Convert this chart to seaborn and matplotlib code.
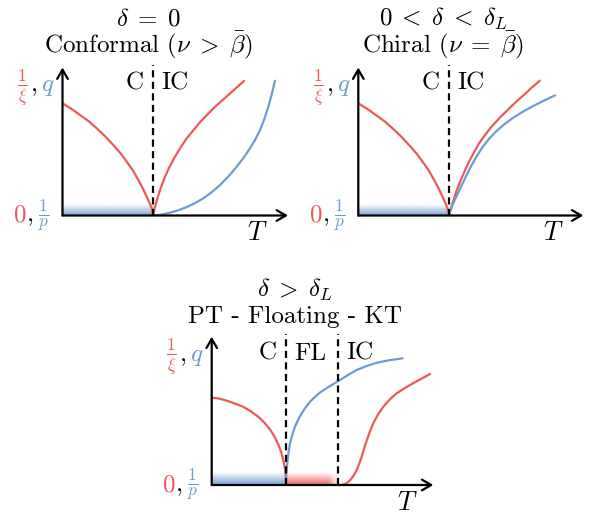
import numpy as np
import matplotlib
matplotlib.use("Agg")
import matplotlib.pyplot as plt
import matplotlib.colors as mcolors
import seaborn as sns

# ---------------- data ----------------
# Panel 1: delta = 0 (Conformal)
p1_red_left_T = [0.0, 0.1, 0.193, 0.29, 0.377, 0.47, 0.559, 0.64, 0.707, 0.775,
                 0.835, 0.885, 0.927, 0.955, 0.975, 0.99, 1.0]
p1_red_left_y = [0.758, 0.720, 0.679, 0.636, 0.589, 0.535, 0.476, 0.420, 0.364, 0.305,
                 0.240, 0.182, 0.127, 0.09, 0.06, 0.03, 0.0]
p1_red_right_T = [1.0, 1.008, 1.022, 1.04, 1.062, 1.09, 1.129, 1.18, 1.239, 1.30,
                  1.368, 1.44, 1.514, 1.60, 1.698, 1.80, 1.90, 1.999]
p1_red_right_y = [0.0, 0.03, 0.065, 0.105, 0.15, 0.20, 0.262, 0.33, 0.397, 0.46,
                  0.521, 0.575, 0.630, 0.685, 0.745, 0.800, 0.855, 0.909]
p1_blue_T = [1.0, 1.09, 1.184, 1.28, 1.368, 1.46, 1.551, 1.645, 1.735, 1.83,
             1.919, 2.0, 2.065, 2.125, 2.176, 2.225, 2.267, 2.305, 2.34]
p1_blue_y = [0.0, 0.006, 0.019, 0.036, 0.057, 0.084, 0.116, 0.158, 0.206, 0.266,
             0.330, 0.395, 0.454, 0.515, 0.578, 0.655, 0.735, 0.82, 0.911]

# Panel 2: 0 < delta < delta_L (Chiral)
p2_red_left_T = [0.0, 0.1, 0.193, 0.29, 0.377, 0.47, 0.559, 0.64, 0.707, 0.775,
                 0.835, 0.885, 0.927, 0.955, 0.975, 0.99, 1.0]
p2_red_left_y = [0.758, 0.720, 0.679, 0.636, 0.589, 0.535, 0.476, 0.420, 0.364, 0.305,
                 0.240, 0.182, 0.127, 0.09, 0.06, 0.03, 0.0]
p2_red_right_T = [1.0, 1.01, 1.025, 1.055, 1.09, 1.129, 1.175, 1.220, 1.275, 1.330,
                  1.40, 1.477, 1.56, 1.643, 1.735, 1.826, 1.91, 1.999]
p2_red_right_y = [0.0, 0.025, 0.058, 0.116, 0.18, 0.240, 0.305, 0.364, 0.428, 0.488,
                  0.548, 0.607, 0.662, 0.712, 0.767, 0.816, 0.864, 0.911]
p2_blue_T = [1.0, 1.01, 1.03, 1.05, 1.074, 1.11, 1.147, 1.19, 1.239, 1.30,
             1.368, 1.44, 1.514, 1.60, 1.698, 1.80, 1.918, 2.04, 2.167]
p2_blue_y = [0.0, 0.024, 0.058, 0.088, 0.12, 0.167, 0.215, 0.27, 0.33, 0.397,
             0.462, 0.518, 0.566, 0.613, 0.657, 0.697, 0.737, 0.775, 0.812]

# Panel 3: delta > delta_L (PT - Floating - KT)
p3_red_left_T = [0.0, 0.1, 0.202, 0.31, 0.425, 0.53, 0.627, 0.71, 0.785, 0.845,
                 0.896, 0.935, 0.964, 0.982, 0.993, 0.999, 1.0]
p3_red_left_y = [0.590, 0.584, 0.570, 0.551, 0.528, 0.497, 0.461, 0.421, 0.375, 0.327,
                 0.274, 0.222, 0.169, 0.123, 0.075, 0.035, 0.0]
p3_blue_T = [1.0, 1.003, 1.008, 1.017, 1.033, 1.054, 1.085, 1.121, 1.165, 1.211,
             1.265, 1.323, 1.39, 1.458, 1.58, 1.704, 1.83, 1.952, 2.08, 2.221,
             2.39, 2.571]
p3_blue_y = [0.0, 0.06, 0.10, 0.146, 0.215, 0.281, 0.34, 0.394, 0.443, 0.484,
             0.525, 0.563, 0.595, 0.625, 0.665, 0.702, 0.742, 0.777, 0.803, 0.826,
             0.843, 0.856]
p3_red_right_T = [1.704, 1.73, 1.76, 1.79, 1.817, 1.85, 1.884, 1.918, 1.951, 1.985,
                  2.018, 2.052, 2.086, 2.13, 2.175, 2.24, 2.310, 2.40, 2.490, 2.60,
                  2.713, 2.83, 2.938]
p3_red_right_y = [0.0, 0.0, 0.002, 0.006, 0.012, 0.026, 0.045, 0.07, 0.101, 0.143,
                  0.191, 0.248, 0.300, 0.362, 0.417, 0.478, 0.529, 0.58, 0.620, 0.655,
                  0.688, 0.72, 0.750]

# transition temperatures (in each panel's units)
p1_Tc = [1.0]
p2_Tc = [1.0]
p3_Tc = [1.0, 1.704]

titles = [
    (r"$\delta\;=\;0$", r"Conformal ($\nu\;>\;\bar{\beta}$)"),
    (r"$0\;<\;\delta\;<\;\delta_L$", r"Chiral ($\nu\;=\;\bar{\beta}$)"),
    (r"$\delta\;>\;\delta_L$", r"PT - Floating - KT"),
]
phase_labels = [["C", "IC"], ["C", "IC"], ["C", "FL", "IC"]]

RED = "#EC5A55"
BLUE = "#6E9BD2"

# ---------------- figure ----------------
sns.set_theme(style="white")
plt.rcParams["font.family"] = ["cmr10", "DejaVu Serif"]
plt.rcParams["mathtext.fontset"] = "cm"
plt.rcParams["axes.formatter.use_mathtext"] = True
plt.rcParams["axes.unicode_minus"] = False
plt.rcParams["text.color"] = "black"

W, H = 596, 516
fig = plt.figure(figsize=(W / 100, H / 100), dpi=100)
FS = 18
LW = 1.6


def fx(x):
    return x / W


def fy(y):
    return 1 - y / H


def band(ax, x0, x1, h, color, fade_right=None):
    ny, nx = 64, 128
    rgba = np.zeros((ny, nx, 4))
    rgba[..., :3] = mcolors.to_rgb(color)
    a = np.linspace(0.95, 0.0, ny)[:, None] * np.ones((1, nx))
    if fade_right:
        xs = np.linspace(0, 1, nx)
        f = np.clip((1 - xs) / fade_right, 0.3, 1)
        a = a * f[None, :]
    rgba[..., 3] = a
    ax.imshow(rgba, extent=(x0, x1, 0, h), origin="lower", aspect="auto",
              zorder=1, interpolation="bilinear")


def panel(ox, oy, xscale, ext_x, ext_y, curves, Tcs, labels, label_pos,
          title_cx, title_y, T_pos, bands, ttl):
    ax = fig.add_axes([fx(ox), fy(oy), ext_x / W, ext_y / H])
    ax.set_axis_off()
    for b in bands:
        band(ax, *b)
    for T, y, c in curves:
        sns.lineplot(x=T, y=y, ax=ax, color=c, lw=LW, sort=False,
                     estimator=None, legend=False, zorder=3)
    for Tc in Tcs:
        ax.plot([Tc, Tc], [0, 1.02], color="black", lw=LW,
                linestyle=(0, (3.2, 2.0)), clip_on=False, zorder=4)
    ax.set_xlim(0, ext_x / xscale)
    ax.set_ylim(0, ext_y / 148)
    arr = dict(arrowstyle="->,head_length=0.55,head_width=0.32", lw=LW,
               color="black", shrinkA=0, shrinkB=0, mutation_scale=12)
    ax.annotate("", xy=(1, 0), xytext=(0, 0), xycoords="axes fraction",
                textcoords="axes fraction", arrowprops=arr, annotation_clip=False)
    ax.annotate("", xy=(0, 1), xytext=(0, 0), xycoords="axes fraction",
                textcoords="axes fraction", arrowprops=arr, annotation_clip=False)
    for lab, (px, py) in zip(labels, label_pos):
        fig.text(fx(px), fy(py), lab, ha="center", va="baseline", fontsize=FS)
    fig.text(fx(title_cx), fy(title_y[0]), ttl[0], ha="center",
             va="baseline", fontsize=FS)
    fig.text(fx(title_cx), fy(title_y[1]), ttl[1], ha="center",
             va="baseline", fontsize=FS)
    fig.text(fx(T_pos[0]), fy(T_pos[1]), r"$T$", ha="center", va="baseline",
             fontsize=FS + 1)
    fig.text(fx(ox - 40), fy(oy - 124), r"$\frac{1}{\xi}$", color=RED,
             ha="center", va="baseline", fontsize=FS)
    fig.text(fx(ox - 29), fy(oy - 124), r"$,$", color="black",
             ha="center", va="baseline", fontsize=FS)
    fig.text(fx(ox - 15), fy(oy - 124), r"$q$", color=BLUE,
             ha="center", va="baseline", fontsize=FS)
    fig.text(fx(ox - 43), fy(oy + 6), r"$0$", color=RED,
             ha="center", va="baseline", fontsize=FS)
    fig.text(fx(ox - 33), fy(oy + 6), r"$,$", color="black",
             ha="center", va="baseline", fontsize=FS)
    fig.text(fx(ox - 19), fy(oy + 6), r"$\frac{1}{p}$", color=BLUE,
             ha="center", va="baseline", fontsize=FS)
    return ax


BH = 12 / 148

panel(62.5, 215.5, 90.8, 225.5, 148,
      [(p1_red_left_T, p1_red_left_y, RED), (p1_red_right_T, p1_red_right_y, RED),
       (p1_blue_T, p1_blue_y, BLUE)],
      p1_Tc, phase_labels[0], [(135, 89), (175, 89)],
      148, (26, 52.5), (257, 240),
      [(0, p1_Tc[0], BH, BLUE)], titles[0])

panel(358.3, 215.5, 90.8, 225, 148,
      [(p2_red_left_T, p2_red_left_y, RED), (p2_red_right_T, p2_red_right_y, RED),
       (p2_blue_T, p2_blue_y, BLUE)],
      p2_Tc, phase_labels[1], [(431, 89), (471, 89)],
      443, (26, 52.5), (553, 240),
      [(0, p2_Tc[0], BH, BLUE)], titles[1])

panel(211.7, 485, 74.3, 221.6, 148.3,
      [(p3_red_left_T, p3_red_left_y, RED), (p3_blue_T, p3_blue_y, BLUE),
       (p3_red_right_T, p3_red_right_y, RED)],
      p3_Tc, phase_labels[2], [(267.5, 359.5), (310, 359.5), (360, 359.5)],
      294.5, (296.5, 322.5), (407, 510),
      [(0, p3_Tc[0], BH, BLUE), (p3_Tc[0], p3_Tc[1], BH, RED, 0.2)], titles[2])

fig.savefig("out.png", dpi=100, facecolor="white")
